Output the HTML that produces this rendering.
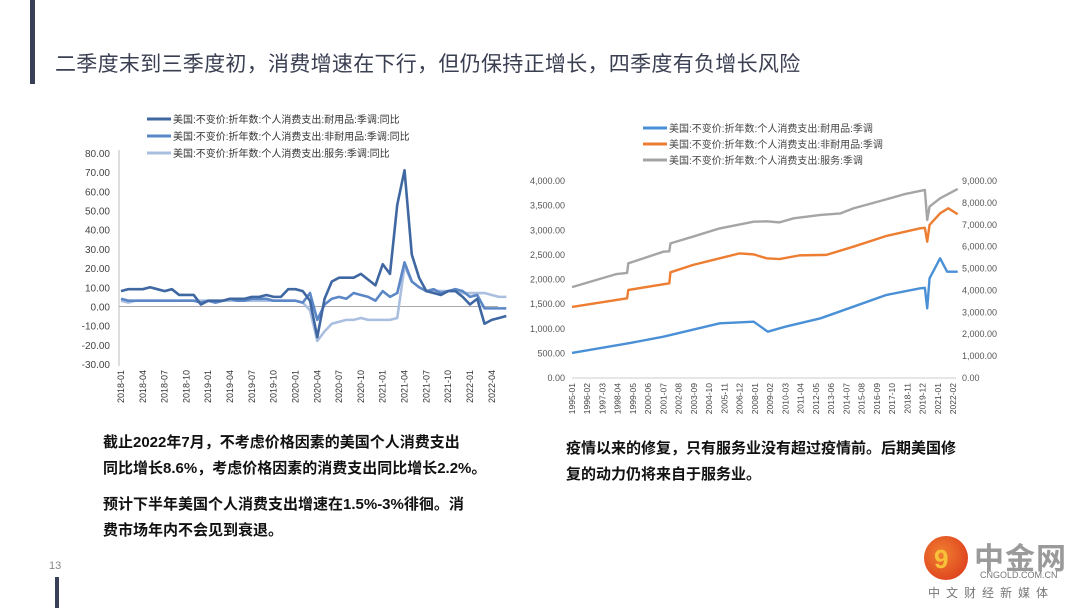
<!DOCTYPE html>
<html><head><meta charset="utf-8">
<style>
body{margin:0;width:1080px;height:608px;background:#fff;position:relative;overflow:hidden;font-family:"Liberation Sans","Noto Sans CJK SC",sans-serif}
.abs{position:absolute}
.title{left:55px;top:48px;font-size:21px;color:#3b3f52;white-space:nowrap;letter-spacing:0.3px}
.para{font-size:15px;color:#111;font-weight:bold;white-space:nowrap;line-height:26px}
</style></head><body>
<div class="abs" style="left:30px;top:0;width:5px;height:84px;background:#3a3f58"></div>
<div class="abs title">二季度末到三季度初，消费增速在下行，但仍保持正增长，四季度有负增长风险</div>

<svg class="abs" style="left:0;top:0" width="1080" height="608">
<g id="left"></g>
<g id="right"></g>
</svg>

<div class="abs para" style="left:103px;top:430px">截止2022年7月，不考虑价格因素的美国个人消费支出<br>同比增长8.6%，考虑价格因素的消费支出同比增长2.2%。<div style="height:10px"></div>预计下半年美国个人消费支出增速在1.5%-3%徘徊。消<br>费市场年内不会见到衰退。</div>
<div class="abs para" style="left:566px;top:436px">疫情以来的修复，只有服务业没有超过疫情前。后期美国修<br>复的动力仍将来自于服务业。</div>

<div class="abs" style="left:49px;top:560px;font-size:11px;color:#888">13</div>
<div class="abs" style="left:55px;top:577px;width:4px;height:31px;background:#3a3f58"></div>

<div class="abs" style="left:922px;top:534px;width:150px;height:70px">
 <div class="abs" style="left:2px;top:2px;width:44px;height:44px;border-radius:50%;background:radial-gradient(circle at 40% 40%,#f08030,#d9301a)"></div>
 <div class="abs" style="left:12px;top:10px;font-size:26px;font-weight:bold;color:#f7c23a">9</div>
 <div class="abs" style="left:52px;top:0;font-size:30px;font-weight:bold;color:#9a9a9a;letter-spacing:1px">中金网</div>
 <div class="abs" style="left:58px;top:36px;font-size:9px;color:#777">CNGOLD.COM.CN</div>
 <div class="abs" style="left:6px;top:50px;font-size:12px;color:#777;letter-spacing:6px">中文财经新媒体</div>
</div>

<script>
const NS="http://www.w3.org/2000/svg";
function mk(p,t,a){const e=document.createElementNS(NS,t);for(const k in a)e.setAttribute(k,a[k]);p.appendChild(e);return e;}

/* ---------- LEFT CHART DATA ---------- */
const leftTicks=[80,70,60,50,40,30,20,10,0,-10,-20,-30];
const durable=[8,9,9,9,10,9,8,9,6,6,6,1, 3,3,3,4,4,4,5,5,6,5,5,9, 9,8,3,-16,4,13,15,15,15,17,14,11, 22,17,53,71,27,15,8,7,6,8,8,5, 1,4,-9,-7,-6,-5];
const nondurable=[4,3,3,3,3,3,3,3,3,3,3,2, 3,2,3,4,3,3,4,4,4,3,3,3, 3,2,7,-7,1,4,5,4,7,6,5,3, 8,5,7,23,13,10,8,9,7,8,9,8, 5,6,-1,-1,-1,-1];
const services=[3,2,3,3,3,3,3,3,3,3,3,3, 3,2,3,3,3,3,3,3,3,3,3,3, 3,2,-2,-18,-13,-9,-8,-7,-7,-6,-7,-7, -7,-7,-6,21,13,10,8,8,8,8,8,7, 7,7,7,6,5,5];
const leftNames=["美国:不变价:折年数:个人消费支出:耐用品:季调:同比","美国:不变价:折年数:个人消费支出:非耐用品:季调:同比","美国:不变价:折年数:个人消费支出:服务:季调:同比"];

/* ---------- RIGHT CHART DATA ---------- */
const durDates=["1995-01","1999-01","2001-07","2005-07","2007-12","2008-12","2010-03","2012-09","2015-01","2017-05","2019-10","2020-02","2020-04","2020-06","2021-03","2021-09","2022-06"];
const durVals=[508,704,839,1110,1143,940,1042,1212,1448,1685,1821,1830,1415,2024,2430,2158,2158];
const nonDates=["1995-01","1998-12","1999-01","2001-12","2002-01","2003-08","2005-07","2006-12","2007-12","2008-11","2009-10","2011-03","2013-02","2015-01","2017-05","2019-10","2020-02","2020-04","2020-06","2021-03","2021-10","2022-06"];
const nonVals=[1442,1618,1787,1922,2146,2294,2430,2530,2510,2430,2415,2490,2500,2666,2883,3040,3050,2767,3108,3344,3446,3324];
const svcDates=["1995-01","1998-03","1998-12","1999-01","2001-07","2001-12","2002-01","2003-08","2005-07","2007-12","2008-11","2009-10","2010-10","2012-09","2014-02","2015-01","2017-05","2018-08","2020-02","2020-04","2020-06","2021-03","2022-06"];
const svcVals=[4150,4750,4800,5240,5770,5790,6150,6455,6835,7140,7160,7110,7295,7450,7520,7750,8160,8390,8590,7220,7830,8210,8635];
const leftAxisTicks=[0,500,1000,1500,2000,2500,3000,3500,4000];
const rightAxisTicks=[0,1000,2000,3000,4000,5000,6000,7000,8000,9000];
const rightNames=["美国:不变价:折年数:个人消费支出:耐用品:季调","美国:不变价:折年数:个人消费支出:非耐用品:季调","美国:不变价:折年数:个人消费支出:服务:季调"];

/* ---------- draw left ---------- */
(function(){
 const g=document.getElementById('left');
 const x0=121,step=7.27,yT=153,yB=364;
 const ys=v=>yT+(80-v)*(yB-yT)/110;
 const xs=i=>x0+i*step;
 const ax=mk(g,'line',{x1:119,y1:150,x2:119,y2:366,stroke:'#bbb','stroke-width':1});
 
 const z=mk(g,'line',{x1:119,y1:ys(0),x2:498,y2:ys(0),stroke:'#aaa','stroke-width':1});
 
 leftTicks.forEach(v=>{const t=mk(g,'text',{x:110,y:ys(v)+4,'text-anchor':'end','font-size':10,fill:'#444'});t.textContent=v.toFixed(2);
  });
 for(let i=0;i<durable.length;i+=3){const y=2018+Math.floor(i/12),m=i%12+1;
  const t=mk(g,'text',{transform:`translate(${xs(i)+3},370) rotate(-90)`,'text-anchor':'end','font-size':9,fill:'#333'});
  t.textContent=y+'-'+String(m).padStart(2,'0');}
 const series=[[services,'#aabfe0','services-line'],[nondurable,'#5b87c6','nondurable-line'],[durable,'#3f67a2','durable-line']];
 series.forEach(([d,c,n])=>{const p=mk(g,'polyline',{points:d.map((v,i)=>xs(i)+','+ys(v)).join(' '),fill:'none',stroke:c,'stroke-width':2.6,'stroke-linejoin':'round'});
  });
 const cols=['#3f67a2','#5b87c6','#aabfe0'];
 leftNames.forEach((nm,i)=>{const y=119+i*17;
  const l=mk(g,'line',{x1:147,y1:y,x2:171,y2:y,stroke:cols[i],'stroke-width':3});
  const t=mk(g,'text',{x:173,y:y+4,'font-size':10,fill:'#333'});t.textContent=nm;});
})();

/* ---------- draw right ---------- */
(function(){
 const g=document.getElementById('right');
 const x0=572,pxm=381/325,yT=181,yB=378;
 const mi=s=>{const [y,m]=s.split('-').map(Number);return (y-1995)*12+m-1;};
 const xs=i=>x0+i*pxm;
 const yl=v=>yB-v*(yB-yT)/4000, yr=v=>yB-v*(yB-yT)/9000;
 const ax=mk(g,'line',{x1:572,y1:yB,x2:956,y2:yB,stroke:'#ccc','stroke-width':1});
 
 leftAxisTicks.forEach(v=>{const t=mk(g,'text',{x:565,y:yl(v)+3,'text-anchor':'end','font-size':9,fill:'#555'});t.textContent=v.toLocaleString('en-US',{minimumFractionDigits:2});
  });
 rightAxisTicks.forEach(v=>{const t=mk(g,'text',{x:962,y:yr(v)+3,'font-size':9,fill:'#555'});t.textContent=v.toLocaleString('en-US',{minimumFractionDigits:2});
  });
 for(let i=0;i<=325;i+=13){const y=1995+Math.floor(i/12),m=i%12+1;
  const t=mk(g,'text',{transform:`translate(${xs(i)+3},383) rotate(-90)`,'text-anchor':'end','font-size':8.5,fill:'#444'});
  t.textContent=y+'-'+String(m).padStart(2,'0');}
 const S=[[svcDates,svcVals,yr,'#a5a5a5','services-line'],[nonDates,nonVals,yl,'#ed7d31','nondurable-line'],[durDates,durVals,yl,'#4a90d6','durable-line']];
 S.forEach(([d,v,f,c,n])=>{const p=mk(g,'polyline',{points:d.map((s,i)=>xs(mi(s))+','+f(v[i])).join(' '),fill:'none',stroke:c,'stroke-width':2.4,'stroke-linejoin':'round'});
  });
 const cols=['#4a90d6','#ed7d31','#a5a5a5'];
 rightNames.forEach((nm,i)=>{const y=128+i*16;
  const l=mk(g,'line',{x1:643,y1:y,x2:667,y2:y,stroke:cols[i],'stroke-width':3});
  const t=mk(g,'text',{x:669,y:y+4,'font-size':10,fill:'#444'});t.textContent=nm;});
})();
</script>
</body></html>
